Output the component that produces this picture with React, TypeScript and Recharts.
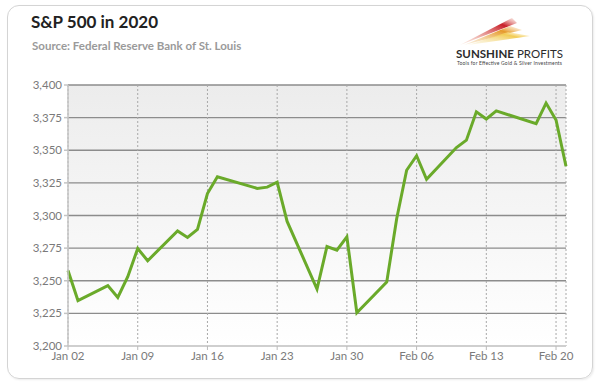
import {
  LineChart,
  CartesianGrid,
  XAxis,
  YAxis,
  Line,
} from "recharts";

// days counted from Jan 02 2020 (calendar days, so weekends leave gaps)
const days = [
  0, 1, 4, 5, 6, 7, 8, 11, 12, 13, 14, 15, 19, 20, 21, 22, 25, 26, 27, 28, 29,
  32, 33, 34, 35, 36, 39, 40, 41, 42, 43, 47, 48, 49, 50,
];
const closes = [
  3257.85, 3234.85, 3246.28, 3237.18, 3253.05, 3274.7, 3265.35, 3288.13,
  3283.15, 3289.29, 3316.81, 3329.62, 3320.79, 3321.75, 3325.54, 3295.47,
  3243.63, 3276.24, 3273.4, 3283.66, 3225.52, 3248.92, 3297.59, 3334.69,
  3345.78, 3327.71, 3352.09, 3357.75, 3379.45, 3373.94, 3380.16, 3370.29,
  3386.15, 3373.23, 3337.75,
];
const xTicks = [0, 7, 14, 21, 28, 35, 42, 49];
const xLabels = ["Jan 02", "Jan 09", "Jan 16", "Jan 23", "Jan 30", "Feb 06", "Feb 13", "Feb 20"];
const yTicks = [3200, 3225, 3250, 3275, 3300, 3325, 3350, 3375, 3400];

const font = "Lato, 'Open Sans', sans-serif";

/** 로고 (광선 + 문구) */
const Logo = () => (
  <svg
    width={597}
    height={384}
    style={{ position: "absolute", left: 0, top: 0, pointerEvents: "none" }}
  >
    <defs>
      <linearGradient id="rayRed" x1="0" y1="1" x2="1" y2="0">
        <stop offset="0" stopColor="#f3c9b0" stopOpacity={0.3} />
        <stop offset="0.75" stopColor="#c8202a" />
        <stop offset="1" stopColor="#f6d6c8" stopOpacity={0.4} />
      </linearGradient>
      <linearGradient id="rayOrange" x1="0" y1="1" x2="1" y2="0">
        <stop offset="0" stopColor="#f3d7a8" stopOpacity={0.3} />
        <stop offset="0.7" stopColor="#e69a2a" />
        <stop offset="1" stopColor="#fbe6c6" stopOpacity={0.3} />
      </linearGradient>
      <linearGradient id="rayYellow" x1="0" y1="1" x2="1" y2="0">
        <stop offset="0" stopColor="#f8eecb" stopOpacity={0.3} />
        <stop offset="0.7" stopColor="#f2cc55" />
        <stop offset="1" stopColor="#fff5d8" stopOpacity={0.2} />
      </linearGradient>
    </defs>
    <polygon points="460,45 512,18 517,23" fill="url(#rayRed)" />
    <polygon points="464,45 510,26 522,30" fill="url(#rayOrange)" />
    <polygon points="468,45 508,32 530,36" fill="url(#rayYellow)" />
    <text x={456} y={58} fontFamily={font} fontSize={11.5} fill="#2b2b2b" textLength={107}>
      <tspan fontWeight="bold">SUNSHINE</tspan>
      <tspan> PROFITS</tspan>
    </text>
    <text x={457} y={65} fontFamily={font} fontSize={5} fill="#444" textLength={105}>
      Tools for Effective Gold &amp; Silver Investments
    </text>
  </svg>
);

const App = () => {
  const items = days.map((d, i) => ({ day: d, close: closes[i] }));

  return (
    <div
      style={{
        position: "absolute",
        left: 0,
        top: 0,
        width: 597,
        height: 384,
        background: "#fff",
        fontFamily: font,
      }}
    >
      {/* 카드 테두리 */}
      <div
        style={{
          position: "absolute",
          left: 7,
          top: 5,
          width: 584,
          height: 372,
          border: "1px solid #d4d4d4",
          borderRadius: 12,
          boxShadow: "1px 1px 2px rgba(0,0,0,0.08)",
        }}
      />
      <div
        style={{
          position: "absolute",
          left: 31,
          top: 11,
          fontSize: 17,
          fontWeight: "bold",
          color: "#222",
        }}
      >
        S&amp;P 500 in 2020
      </div>
      <div
        style={{
          position: "absolute",
          left: 32,
          top: 39,
          fontSize: 11.5,
          fontWeight: "bold",
          color: "#9a9a9a",
        }}
      >
        Source: Federal Reserve Bank of St. Louis
      </div>
      <LineChart
        width={597}
        height={384}
        data={items}
        margin={{ top: 85, right: 31, left: 8, bottom: 8 }}
        style={{ position: "absolute", left: 0, top: 0 }}
      >
        <defs>
          <linearGradient id="plotBg" x1="0" y1="0" x2="0" y2="1">
            <stop offset="0" stopColor="#ececec" />
            <stop offset="1" stopColor="#ffffff" />
          </linearGradient>
        </defs>
        <CartesianGrid
          vertical={false}
          stroke="#8c8c8c"
          strokeWidth={1.3}
          fill="url(#plotBg)"
        />
        <CartesianGrid
          horizontal={false}
          stroke="#a8a8a8"
          strokeDasharray="2 2"
        />
        <XAxis
          dataKey="day"
          type="number"
          domain={[0, 50]}
          ticks={xTicks}
          tickFormatter={(v) => xLabels[xTicks.indexOf(v)]}
          height={30}
          stroke="#cfcfcf"
          strokeWidth={2}
          tickSize={4}
          tick={{ fill: "#7a7a7a", fontSize: 11.5 }}
          tickLine={{ stroke: "#bbb", strokeWidth: 1 }}
        />
        <YAxis
          domain={[3200, 3400]}
          ticks={yTicks}
          width={60}
          stroke="#c4c4c4"
          strokeWidth={1.5}
          tickSize={4}
          tick={{ fill: "#7a7a7a", fontSize: 11.5 }}
          tickFormatter={(v) => v.toLocaleString("en-US")}
        />
        <Line
          type="linear"
          dataKey="close"
          stroke="#6aaa2a"
          strokeWidth={3}
          dot={false}
          isAnimationActive={false}
        />
      </LineChart>
      <Logo />
    </div>
  );
};

export default App;
